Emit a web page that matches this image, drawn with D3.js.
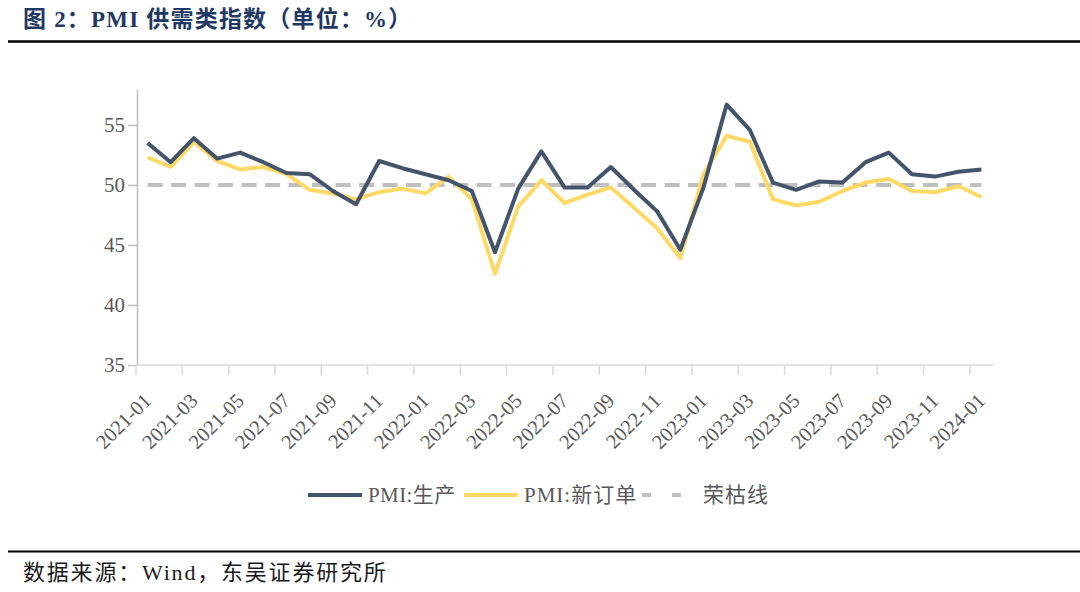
<!DOCTYPE html>
<html>
<head>
<meta charset="utf-8">
<script src="https://cdn.jsdelivr.net/npm/d3@7/dist/d3.min.js"></script>
<style>
  html, body { margin: 0; padding: 0; background: #fff; }
  svg { display: block; }
</style>
</head>
<body>
<svg id="chart" width="1080" height="592"></svg>
<script>
// ---- data ----
const months = [
  "2021-01","2021-02","2021-03","2021-04","2021-05","2021-06","2021-07","2021-08","2021-09","2021-10","2021-11","2021-12",
  "2022-01","2022-02","2022-03","2022-04","2022-05","2022-06","2022-07","2022-08","2022-09","2022-10","2022-11","2022-12",
  "2023-01","2023-02","2023-03","2023-04","2023-05","2023-06","2023-07","2023-08","2023-09","2023-10","2023-11","2023-12",
  "2024-01"
];
const production = [
  53.5,51.9,53.9,52.2,52.7,51.9,51.0,50.9,49.5,48.4,52.0,51.4,
  50.9,50.4,49.5,44.4,49.7,52.8,49.8,49.8,51.5,49.6,47.8,44.6,
  49.8,56.7,54.6,50.2,49.6,50.3,50.2,51.9,52.7,50.9,50.7,51.1,
  51.3
];
const newOrders = [
  52.3,51.5,53.6,52.0,51.3,51.5,50.9,49.6,49.3,48.8,49.4,49.7,
  49.3,50.7,48.8,42.6,48.2,50.4,48.5,49.2,49.8,48.1,46.4,43.9,
  50.9,54.1,53.6,48.8,48.3,48.6,49.5,50.2,50.5,49.5,49.4,49.9,
  49.0
];
const boomBust = months.map(() => 50);
const xTickLabels = months.filter((m, i) => i % 2 === 0);
const yTicks = [35, 40, 45, 50, 55];
const seriesNames = ["PMI:生产", "PMI:新订单", "荣枯线"];

// ---- styles ----
const C_PROD = "#44546A";
const C_NEW = "#FFD966";
const C_LINE50 = "#BFBFBF";
const C_TEXT = "#595959";
const FONT = "'Liberation Serif', 'Noto Sans CJK SC', serif";

const svg = d3.select("#chart");

// title
svg.append("text")
  .attr("x", 23).attr("y", 27)
  .attr("font-family", FONT)
  .attr("font-weight", "bold")
  .attr("font-size", 23)
  .attr("letter-spacing", 1.2)
  .attr("fill", "#1F3864")
  .text("图 2：PMI 供需类指数（单位：%）");

svg.append("line").attr("x1", 8).attr("x2", 1080).attr("y1", 41.5).attr("y2", 41.5)
  .attr("stroke", "#000").attr("stroke-width", 2.5);
svg.append("line").attr("x1", 8).attr("x2", 1080).attr("y1", 551.5).attr("y2", 551.5)
  .attr("stroke", "#000").attr("stroke-width", 2);

svg.append("text")
  .attr("x", 23).attr("y", 580)
  .attr("font-family", FONT)
  .attr("font-size", 22)
  .attr("letter-spacing", 1.8)
  .attr("fill", "#1a1a1a")
  .text("数据来源：Wind，东吴证券研究所");

// scales
const x = d3.scaleBand().domain(months).range([136, 993]).padding(0);
const bw = x.bandwidth();
const cx = m => x(m) + bw / 2;
const y = d3.scaleLinear().domain([35, 58]).range([365, 89]);

// y axis
const yAxis = svg.append("g")
  .attr("transform", "translate(137,0)")
  .call(d3.axisLeft(y).tickValues(yTicks).tickSize(9).tickSizeOuter(0).tickPadding(3));
yAxis.select(".domain").attr("stroke", C_LINE50).attr("stroke-width", 1.5);
yAxis.selectAll(".tick line").attr("stroke", C_LINE50).attr("stroke-width", 1.5);
yAxis.selectAll(".tick text")
  .attr("font-family", FONT).attr("font-size", 21).attr("fill", C_TEXT);

// x axis
const xAxis = svg.append("g")
  .attr("transform", "translate(0,365)")
  .call(d3.axisBottom(x).tickValues(xTickLabels).tickSize(10).tickSizeOuter(0).tickFormat(""));
xAxis.select(".domain").attr("stroke", "#D9D9D9").attr("stroke-width", 1.5)
  .attr("d", `M136,0H993`);
xAxis.selectAll(".tick").attr("transform", d => `translate(${x(d)},0)`);
xAxis.selectAll(".tick line").attr("stroke", "#D9D9D9").attr("stroke-width", 1.5);

svg.append("g").selectAll("text")
  .data(xTickLabels)
  .join("text")
  .attr("transform", d => `translate(${cx(d) + 5},402) rotate(-45)`)
  .attr("text-anchor", "end")
  .attr("font-family", FONT)
  .attr("font-size", 20.5)
  .attr("fill", C_TEXT)
  .text(d => d);

// lines
const lineGen = vals => d3.line()
  .x((d, i) => cx(months[i]))
  .y(d => y(d))(vals);

svg.append("path").attr("d", lineGen(boomBust))
  .attr("fill", "none").attr("stroke", C_LINE50).attr("stroke-width", 4)
  .attr("stroke-dasharray", "15,8.5");
svg.append("path").attr("d", lineGen(newOrders))
  .attr("fill", "none").attr("stroke", C_NEW).attr("stroke-width", 4)
  .attr("stroke-linejoin", "round");
svg.append("path").attr("d", lineGen(production))
  .attr("fill", "none").attr("stroke", C_PROD).attr("stroke-width", 4)
  .attr("stroke-linejoin", "round");

// legend
const legend = svg.append("g");
const legendItems = [
  { name: seriesNames[0], color: C_PROD, dash: null, x: 308 },
  { name: seriesNames[1], color: C_NEW, dash: null, x: 464 },
  { name: seriesNames[2], color: C_LINE50, dash: "9,21", x: 642 }
];
const ly = 495;
legendItems.forEach((it, i) => {
  legend.append("line")
    .attr("x1", it.x).attr("x2", it.x + 54).attr("y1", ly).attr("y2", ly)
    .attr("stroke", it.color).attr("stroke-width", 4)
    .attr("stroke-dasharray", it.dash);
  legend.append("text")
    .attr("x", i === 2 ? it.x + 61 : it.x + 60).attr("y", ly + 7)
    .attr("font-family", FONT).attr("font-size", 21).attr("letter-spacing", i === 0 ? 0.4 : 1)
    .attr("fill", C_TEXT)
    .text(it.name);
});
</script>
</body>
</html>
